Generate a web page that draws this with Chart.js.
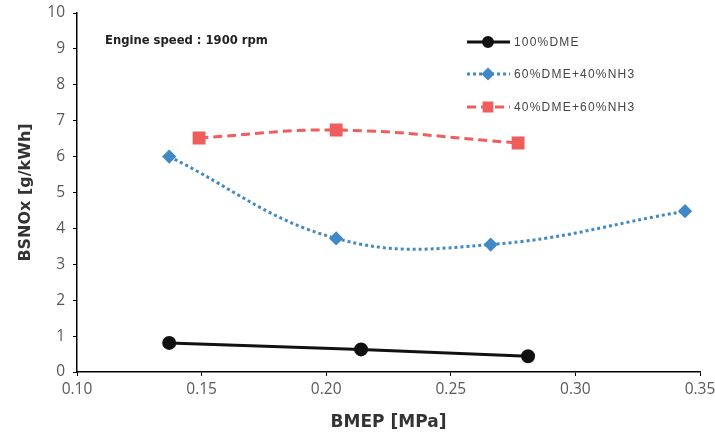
<!DOCTYPE html>
<html>
<head>
<meta charset="utf-8">
<script src="https://cdn.jsdelivr.net/npm/chart.js@4/dist/chart.umd.min.js"></script>
<style>
	html, body { margin: 0; padding: 0; background: #ffffff; }
	#wrap { width: 715px; height: 433px; }
</style>
</head>
<body>
<div id="wrap"><canvas id="myChart"></canvas></div>
<script>
// datos
const seriesNames = ['100%DME', '60%DME+40%NH3', '40%DME+60%NH3'];

const bmepDME = [0.137, 0.214, 0.281];
const noxDME = [0.81, 0.63, 0.44];

const bmep60 = [0.137, 0.204, 0.266, 0.344];
const nox60 = [6.0, 3.72, 3.55, 4.48];

const bmep40 = [0.149, 0.204, 0.277];
const nox40 = [6.52, 6.74, 6.38];

const xTicks = [0.10, 0.15, 0.20, 0.25, 0.30, 0.35];
const yTicks = [0, 1, 2, 3, 4, 5, 6, 7, 8, 9, 10];

const toPoints = (xs, ys) => xs.map((x, i) => ({ x: x, y: ys[i] }));

// estilos
const style = {
	black: '#111111',
	blue: '#4189c6',
	red: '#ef5d5d',
	tick: '#595959',
	font: '"Open Sans", "Noto Sans", sans-serif',
	titleFont: '"DejaVu Sans", sans-serif',
};

// tamaño de los marcadores en la leyenda
const legendRadius = [4.5, 4.5, 5.5];

// leyenda y texto dibujados dentro del area del grafico
const legendInside = {
	id: 'legendInside',
	afterDraw(chart) {
		const ctx = chart.ctx;
		ctx.save();
		ctx.font = 'bold 11.6px ' + style.titleFont;
		ctx.fillStyle = '#222';
		ctx.textBaseline = 'middle';
		ctx.fillText('Engine speed : 1900 rpm', 105, 41);

		const rows = [42, 74, 107];
		chart.data.datasets.forEach((ds, i) => {
			const y = rows[i];
			ctx.strokeStyle = ds.borderColor;
			ctx.lineWidth = ds.borderWidth;
			ctx.setLineDash(ds.borderDash || []);
			ctx.beginPath();
			ctx.moveTo(467, y);
			ctx.lineTo(510, y);
			ctx.stroke();
			ctx.setLineDash([]);
			Chart.helpers.drawPoint(ctx, {
				pointStyle: ds.pointStyle,
				radius: legendRadius[i],
				borderWidth: 1,
			}, 488, y);
			ctx.fillStyle = ds.borderColor;
			ctx.fill();
			ctx.fillStyle = '#444';
			ctx.font = '12px "Liberation Sans", sans-serif';
			ctx.letterSpacing = '1.2px';
			ctx.fillText(ds.label, 514, y + 1);
			ctx.letterSpacing = '0px';
		});
		ctx.restore();
	}
};

const data = {
	datasets: [
		{
			label: seriesNames[0],
			data: toPoints(bmepDME, noxDME),
			borderColor: style.black,
			backgroundColor: style.black,
			borderWidth: 3,
			pointStyle: 'circle',
			pointRadius: 5.5,
			tension: 0,
		},
		{
			label: seriesNames[1],
			data: toPoints(bmep60, nox60),
			borderColor: style.blue,
			backgroundColor: style.blue,
			borderWidth: 3,
			borderDash: [3, 3],
			pointStyle: 'rectRot',
			pointRadius: 5,
			tension: 0.4,
		},
		{
			label: seriesNames[2],
			data: toPoints(bmep40, nox40),
			borderColor: style.red,
			backgroundColor: style.red,
			borderWidth: 3,
			borderDash: [9, 5],
			pointStyle: 'rect',
			pointRadius: 7,
			tension: 0.4,
		},
	]
};

const config = {
	type: 'line',
	data: data,
	plugins: [legendInside],
	options: {
		responsive: true,
		maintainAspectRatio: false,
		animation: false,
		layout: { padding: { top: 13, right: 15, left: 0, bottom: 0 } },
		plugins: {
			legend: { display: false },
			tooltip: { enabled: false },
		},
		scales: {
			x: {
				type: 'linear',
				min: 0.10,
				max: 0.35,
				afterBuildTicks: (axis) => { axis.ticks = xTicks.map(v => ({ value: v })); },
				afterFit: (axis) => {
					axis.height = 61;
					axis.paddingLeft = 0;
					axis.paddingRight = 0;
				},
				border: { color: '#000', width: 1.5 },
				grid: { drawOnChartArea: false, tickLength: 4, color: '#000' },
				ticks: {
					color: style.tick,
					font: { family: style.font, size: 15.5 },
					padding: 4,
					maxRotation: 0,
					callback: (v) => v.toFixed(2),
				},
				title: {
					display: true,
					text: 'BMEP [MPa]',
					color: '#333',
					font: { family: style.titleFont, size: 17, weight: 'bold' },
					padding: { top: 3, bottom: 0 },
				},
			},
			y: {
				min: 0,
				max: 10,
				afterBuildTicks: (axis) => { axis.ticks = yTicks.map(v => ({ value: v })); },
				afterFit: (axis) => {
					axis.width = 77;
					axis.paddingTop = 0;
					axis.paddingBottom = 0;
				},
				border: { color: '#000', width: 1.5 },
				grid: { drawOnChartArea: false, tickLength: 4, color: '#000' },
				ticks: {
					color: style.tick,
					font: { family: style.font, size: 15.5 },
					padding: 8,
				},
				title: {
					display: true,
					text: 'BSNOx [g/kWh]',
					color: '#333',
					font: { family: style.titleFont, size: 16, weight: 'bold' },
					padding: { top: 16, bottom: 0 },
				},
			},
		},
	},
};

new Chart(document.getElementById('myChart'), config);
</script>
</body>
</html>
